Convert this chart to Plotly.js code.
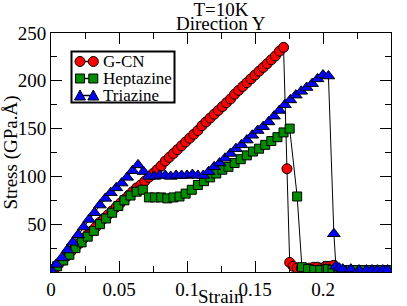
<!DOCTYPE html>
<html>
<head>
<meta charset="utf-8">
<script src="https://cdn.plot.ly/plotly-3.0.1.min.js"></script>
<style>html,body{margin:0;padding:0;background:#fff;}#chart{width:407px;height:306px;}</style>
</head>
<body>
<div id="chart"></div>
<script>
// G-CN
const gcnStrain = [0,0.003,0.006,0.009,0.012,0.015,0.018,0.021,0.024,0.027,0.030,0.033,0.036,0.039,0.042,0.045,0.048,0.051,0.054,0.057,0.060,0.063,0.066,0.069,0.072,0.075,0.078,0.081,0.084,0.087,0.090,0.093,0.096,0.099,0.102,0.105,0.108,0.111,0.114,0.117,0.120,0.123,0.126,0.129,0.132,0.135,0.138,0.141,0.144,0.147,0.150,0.153,0.156,0.159,0.162,0.165,0.168,0.171,
  0.1735,0.1755,0.178,0.181,0.184,0.187,0.190,0.193,0.196,0.199,0.202,0.205,0.208];
const gcnStress = [0,4,9,13,17,22,26,30,35,39,43,47,52,56,60,64,68,72,76,80,84,88,91,95,99,103,107,111,116,120,124,128,132,136,140,144,148,153,157,161,165,169,173,177,181,186,190,194,198,202,206,210,214,218,222,226,231,235,
  108,10,6,4,4,3,4,5,5,4,6,6,7];

// Heptazine
const heptStrain = [0,0.0045,0.009,0.0135,0.018,0.0225,0.027,0.0315,0.036,0.0405,0.045,0.0495,0.054,0.0585,0.063,0.0675,
  0.072,0.0765,0.081,0.0855,0.090,0.0945,0.099,0.1035,0.108,0.1125,0.117,0.1215,0.126,0.1305,0.135,0.1395,0.144,0.1485,0.153,0.1575,0.162,0.1665,0.171,0.1755,
  0.181,0.1845,0.189,0.1935,0.198,0.2025,0.207,0.2115,0.216,0.2205,0.225,0.2295,0.234,0.2385,0.243,0.2475];
const heptStress = [1,6,12,18,25,31,37,43,50,56,62,69,75,80,84,86,
  78,78,78,77,78,79,82,86,91,95,99,103,107,110,114,118,122,126,129,133,137,141,146,150,
  79,5,3,2,2,3,2,2,2,2,2,2,2,2,2,2];

// Triazine
const triaStrain = [0,0.004,0.008,0.012,0.016,0.020,0.024,0.028,0.032,0.036,0.040,0.044,0.048,0.052,0.056,0.060,0.064,
  0.068,0.072,0.076,0.080,0.084,0.088,0.092,0.096,0.100,0.104,0.108,0.112,0.116,0.120,0.124,0.128,0.132,0.136,0.140,0.144,0.148,0.152,0.156,0.160,0.164,0.168,0.172,0.176,0.180,0.184,0.188,0.192,0.196,0.200,0.204,
  0.208,0.2095,0.212,0.2145,0.2205,0.2265,0.232,0.236,0.240,0.244,0.2475];
const triaStress = [2,8,15,23,31,39,47,55,62,70,77,83,88,93,99,106,112,
  105,100,100,101,101,100,101,101,101,102,101,101,105,110,114,119,124,129,133,138,143,148,152,157,163,169,175,180,185,189,193,197,202,206,205,
  40,6,4,3,3,2,2,2,2,2,2];

const seriesNames = ['G-CN','Heptazine','Triazine'];
const seriesColors = ['#ff0000','#008c00','#0000ff'];
const xTickVals = [0,0.05,0.1,0.15,0.2,0.25];
const xTickText = ['0','0.05','0.1','0.15','0.2','0.25'];
const yTickVals = [50,100,150,200,250];
const yTickText = ['50','100','150','200','250'];

const serif = 'Liberation Serif, Times New Roman, serif';
const lineStyle = {color:'#000', width:1};
const mk = {color:'#000', width:1};

const traces = [
  {x:gcnStrain, y:gcnStress, name:seriesNames[0], type:'scatter', mode:'lines+markers',
   line:lineStyle, marker:{symbol:'circle', size:10, color:seriesColors[0], line:mk}},
  {x:heptStrain, y:heptStress, name:seriesNames[1], type:'scatter', mode:'lines+markers',
   line:lineStyle, marker:{symbol:'square', size:9, color:seriesColors[1], line:mk}},
  {x:triaStrain, y:triaStress, name:seriesNames[2], type:'scatter', mode:'lines+markers',
   line:lineStyle, marker:{symbol:'triangle-up', size:11, color:seriesColors[2], line:mk}}
];

const axisCommon = {
  showline:true, linecolor:'#000', linewidth:1, mirror:'allticks',
  ticks:'inside', ticklen:11, tickwidth:1, tickcolor:'#000',
  showgrid:false, zeroline:false,
  tickfont:{family:serif, size:19, color:'#000'}
};

// plot-area pixel helpers for the hand-built legend (paper coords)
const L = 51, T = 33, W = 340, H = 239;
const px = v => (v - L) / W;
const py = v => (T + H - v) / H;

// legend layout (pixels)
const legBox = {x0:71.5, x1:174.5, y0:51.5, y1:102.5};
const legRows = [61.5, 78.5, 95.5];
const legGlyphX = [80, 93.3];

const annotations = [
  {text:'Direction Y', xref:'paper', yref:'paper', x:0.5, y:py(23.5), xanchor:'center', yanchor:'middle', height:15,
   showarrow:false, font:{family:serif, size:19, color:'#000'}},
  {text:'Strain', xref:'paper', yref:'paper', x:0.5, y:py(296.5), xanchor:'center', yanchor:'middle',
   showarrow:false, font:{family:serif, size:19, color:'#000'}}
];
const shapes = [
  {type:'rect', xref:'paper', yref:'paper', x0:px(legBox.x0), x1:px(legBox.x1), y0:py(legBox.y1), y1:py(legBox.y0),
   line:{color:'#000', width:2}, fillcolor:'rgba(0,0,0,0)', layer:'above'}
];
legRows.forEach((ry, i) => {
  shapes.push({type:'line', xref:'paper', yref:'paper', x0:px(legGlyphX[0]), x1:px(legGlyphX[1]), y0:py(ry), y1:py(ry),
    line:{color:'#000', width:1.5}, layer:'above'});
  legGlyphX.forEach(gx => {
    const base = {xref:'paper', yref:'paper', xsizemode:'pixel', ysizemode:'pixel', xanchor:px(gx), yanchor:py(ry),
      fillcolor:seriesColors[i], line:{color:'#000', width:1}, layer:'above'};
    if (i === 0) shapes.push(Object.assign({type:'circle', x0:-5, x1:5, y0:-5, y1:5}, base));
    else if (i === 1) shapes.push(Object.assign({type:'rect', x0:-4.5, x1:4.5, y0:-4.5, y1:4.5}, base));
    else shapes.push(Object.assign({type:'path', path:'M -5.5 -4.5 L 5.5 -4.5 L 0 5.5 Z'}, base));
  });
  annotations.push({text:seriesNames[i], xref:'paper', yref:'paper', x:px(100.5), y:py(ry), xanchor:'left', yanchor:'middle',
    height:16.5, showarrow:false, font:{family:serif, size:17, color:'#000'}});
});

const layout = {
  width:407, height:306,
  margin:{l:L, r:407-L-W, t:T, b:306-T-H},
  paper_bgcolor:'#fff', plot_bgcolor:'#fff',
  title:{text:'T=10K', font:{family:serif, size:19, color:'#000'}, x:221/407, xref:'container', xanchor:'center', y:1-9.5/306, yanchor:'middle'},
  xaxis:Object.assign({}, axisCommon, {
    range:[0,0.25], tickvals:xTickVals, ticktext:xTickText,
    minor:{dtick:0.025, ticks:'inside', ticklen:6, tickcolor:'#000', tickwidth:1}
  }),
  yaxis:Object.assign({}, axisCommon, {
    range:[0,250], tickvals:yTickVals, ticktext:yTickText,
    minor:{tickvals:[25,75,125,175,225], ticks:'inside', ticklen:6, tickcolor:'#000', tickwidth:1},
    title:{text:'Stress (GPa.Å)', font:{family:serif, size:19, color:'#000'}, standoff:4}
  }),
  shapes:shapes,
  annotations:annotations,
  showlegend:false
};

Plotly.newPlot('chart', traces, layout, {displayModeBar:false, staticPlot:true});
</script>
</body>
</html>
